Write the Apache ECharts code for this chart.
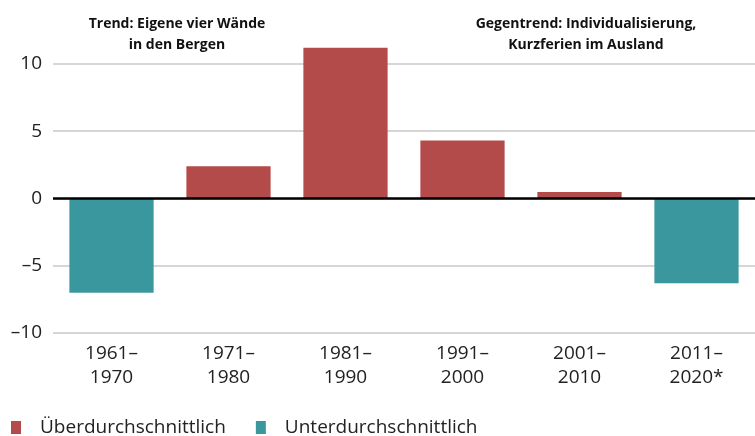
<!DOCTYPE html>
<html>
<head>
	<meta charset="utf-8" />
	<title>Jahrzehnte</title>
	<script src="https://cdn.jsdelivr.net/npm/echarts@6/dist/echarts.min.js"></script>
	<style>
		body { margin: 0; background: #fff; }
		#chartmain { width: 755px; height: 436px; }
	</style>
</head>
<body>
	<div id="chartmain"></div>
</body>
<script type="text/javascript">
	var categories = ['1961–\n1970', '1971–\n1980', '1981–\n1990', '1991–\n2000', '2001–\n2010', '2011–\n2020*'];
	// Überdurchschnittlich (positiv) / Unterdurchschnittlich (negativ)
	var ueber = ['-', 2.4, 11.2, 4.3, 0.48, '-'];
	var unter = [-7.0, '-', '-', '-', '-', -6.3];
	var yTicks = [-10, -5, 0, 5, 10];

	var font = '"Open Sans", sans-serif';
	var myChart = echarts.init(document.getElementById('chartmain'));

	var option = {
		animation: false,
		textStyle: { fontFamily: font },
		grid: {
			left: 53,
			right: -5,
			top: 0,
			bottom: 103
		},
		legend: {
			left: 6,
			bottom: -6,
			icon: 'rect',
			itemWidth: 10,
			itemHeight: 13,
			itemGap: 30,
			textStyle: { fontSize: 19, color: '#222', fontFamily: font, padding: [0, 0, 0, 14] },
			data: ['Überdurchschnittlich', 'Unterdurchschnittlich']
		},
		xAxis: {
			type: 'category',
			data: categories,
			axisLine: { show: false, onZero: false },
			axisTick: { show: false },
			axisLabel: { fontSize: 19, color: '#222', lineHeight: 24, margin: 9, fontFamily: font }
		},
		yAxis: {
			type: 'value',
			min: -10,
			max: 14.75,
			interval: 5,
			axisLine: { show: false },
			axisTick: { show: false },
			splitLine: { showMaxLine: false, lineStyle: { color: '#c8c8c8', width: 1.5 } },
			axisLabel: {
				fontSize: 19, color: '#222', margin: 11, fontFamily: font, showMaxLabel: false,
				formatter: function (v) { return yTicks.indexOf(v) < 0 ? '' : (v < 0 ? '–' + (-v) : '' + v); }
			}
		},
		graphic: [
			{ type: 'text', x: 177, y: 14, style: { text: 'Trend: Eigene vier Wände\nin den Bergen', align: 'center', font: 'bold 14px ' + font, fill: '#111', lineHeight: 21 } },
			{ type: 'text', x: 586, y: 14, style: { text: 'Gegentrend: Individualisierung,\nKurzferien im Ausland', align: 'center', font: 'bold 14px ' + font, fill: '#111', lineHeight: 21 } }
		],
		series: [
			{
				name: 'Überdurchschnittlich',
				type: 'bar',
				stack: 'a',
				barWidth: '72%',
				itemStyle: { color: '#b34b4a' },
				data: ueber,
				markLine: {
					silent: true,
					symbol: 'none',
					label: { show: false },
					lineStyle: { color: '#000', width: 2.5, type: 'solid' },
					data: [{ yAxis: 0 }]
				}
			},
			{
				name: 'Unterdurchschnittlich',
				type: 'bar',
				stack: 'a',
				barWidth: '72%',
				itemStyle: { color: '#3a979d' },
				data: unter
			}
		]
	};
	myChart.setOption(option);
</script>
</html>
